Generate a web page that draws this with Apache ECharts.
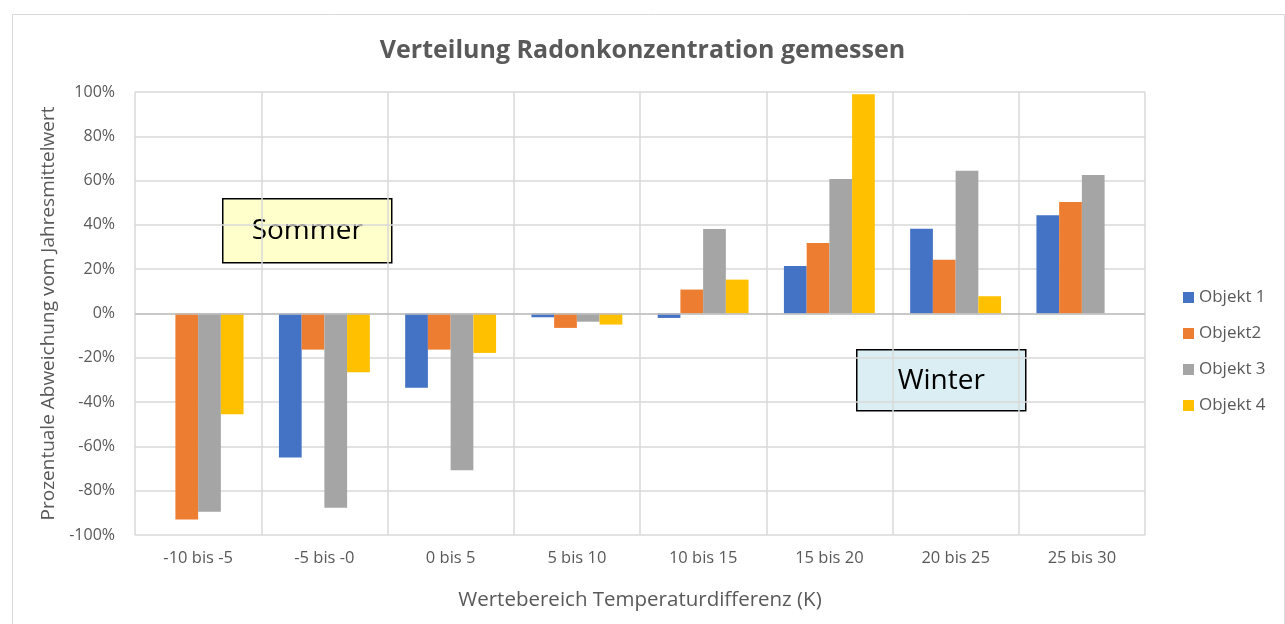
<!DOCTYPE html>
<html>
<head>
<meta charset="utf-8">
<script src="https://cdn.jsdelivr.net/npm/echarts@6/dist/echarts.min.js"></script>
<style>
  html, body { margin: 0; padding: 0; background: #fff; }
  #chart { width: 1285px; height: 624px; }
</style>
</head>
<body>
<div id="chart"></div>
<script>
// Kategorien (Temperaturdifferenz in K)
const categories = ['-10 bis -5', '-5 bis -0', '0 bis 5', '5 bis 10', '10 bis 15', '15 bis 20', '20 bis 25', '25 bis 30']

// Abweichung vom Jahresmittelwert (Anteil, 1 = 100 %)
const objekt1 = [null, -0.65, -0.335, -0.017, -0.02, 0.214, 0.383, 0.444]
const objekt2 = [-0.93, -0.163, -0.163, -0.065, 0.108, 0.318, 0.243, 0.503]
const objekt3 = [-0.895, -0.877, -0.708, -0.037, 0.382, 0.607, 0.644, 0.625]
const objekt4 = [-0.455, -0.265, -0.178, -0.05, 0.153, 0.99, 0.078, null]

const seriesNames = ['Objekt 1', 'Objekt2', 'Objekt 3', 'Objekt 4']
const seriesColors = ['#4472C4', '#ED7D31', '#A5A5A5', '#FFC000']

const FONT = '"Open Sans", sans-serif'
const TEXT_GREY = '#595959'

const chart = echarts.init(document.getElementById('chart'))

const series = [objekt1, objekt2, objekt3, objekt4].map((data, i) => ({
  name: seriesNames[i],
  type: 'bar',
  data: data,
  barGap: '0%',
  barCategoryGap: '28%',
  itemStyle: { color: seriesColors[i] },
}))

// Nulllinie etwas dunkler als das Gitter
series[0].markLine = {
  silent: true,
  symbol: 'none',
  label: { show: false },
  lineStyle: { color: '#bfbfbf', width: 1.5, type: 'solid' },
  data: [{ yAxis: 0 }],
}

const option = {
  backgroundColor: '#fff',
  animation: false,
  textStyle: { fontFamily: FONT },
  title: {
    text: 'Verteilung Radonkonzentration gemessen',
    left: 'center',
    top: 33,
    textStyle: { fontFamily: FONT, fontSize: 25, fontWeight: 'bold', color: TEXT_GREY },
  },
  legend: {
    orient: 'vertical',
    left: 1178,
    top: 281,
    itemWidth: 11,
    itemHeight: 11,
    itemGap: 13,
    icon: 'rect',
    textStyle: { fontFamily: FONT, fontSize: 17, color: TEXT_GREY, lineHeight: 23 },
    data: seriesNames,
  },
  grid: { left: 135, right: 140, top: 92, bottom: 89 },
  xAxis: {
    type: 'category',
    data: categories,
    name: 'Wertebereich Temperaturdifferenz (K)',
    nameLocation: 'middle',
    nameGap: 55,
    nameTextStyle: { fontFamily: FONT, fontSize: 20.5, color: TEXT_GREY },
    axisLine: { show: false, onZero: false },
    axisTick: { show: false },
    axisLabel: { fontFamily: FONT, fontSize: 16.5, color: TEXT_GREY, margin: 15 },
    splitLine: { show: true, lineStyle: { color: '#d9d9d9', width: 1.5 } },
  },
  yAxis: {
    type: 'value',
    min: -1,
    max: 1,
    interval: 0.2,
    name: 'Prozentuale Abweichung vom Jahresmittelwert',
    nameLocation: 'middle',
    nameGap: 74,
    nameTextStyle: { fontFamily: FONT, fontSize: 19, color: TEXT_GREY },
    axisLine: { show: false },
    axisTick: { show: false },
    axisLabel: {
      fontFamily: FONT,
      fontSize: 16,
      color: TEXT_GREY,
      margin: 20,
      formatter: v => Math.round(v * 100) + '%',
    },
    splitLine: { lineStyle: { color: '#d9d9d9', width: 1.5 } },
  },
  series: series,
  graphic: [
    {
      type: 'rect',
      left: 10, top: 12,
      shape: { width: 1272, height: 630 },
      style: { fill: 'none', stroke: '#d9d9d9', lineWidth: 1 },
      silent: true,
    },
    {
      type: 'group',
      left: 222, top: 198,
      children: [
        { type: 'rect', shape: { width: 169, height: 64 }, style: { fill: '#FFFFCC', stroke: '#000', lineWidth: 1.5 } },
        { type: 'text', x: 84.5, y: 32, style: { text: 'Sommer', fontFamily: FONT, fontSize: 28, fill: '#000', align: 'center', verticalAlign: 'middle' } },
      ],
    },
    {
      type: 'group',
      left: 856, top: 349,
      children: [
        { type: 'rect', shape: { width: 169, height: 61 }, style: { fill: '#DAEEF3', stroke: '#000', lineWidth: 1.5 } },
        { type: 'text', x: 84.5, y: 31, style: { text: 'Winter', fontFamily: FONT, fontSize: 28, fill: '#000', align: 'center', verticalAlign: 'middle' } },
      ],
    },
  ],
}

chart.setOption(option)
</script>
</body>
</html>
